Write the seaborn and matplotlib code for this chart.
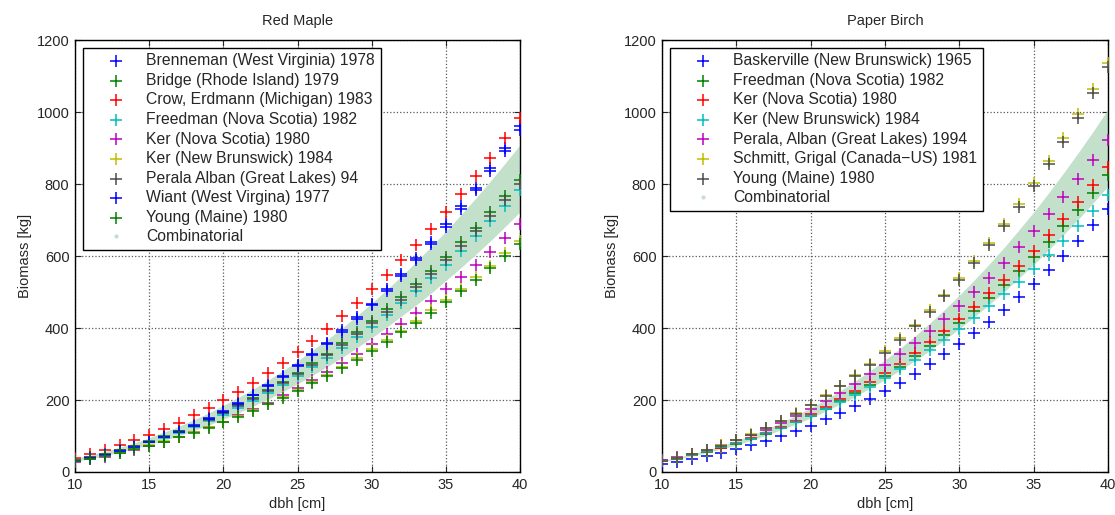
import matplotlib.pyplot as plt
from matplotlib.lines import Line2D
import seaborn as sns

dbh = list(range(10, 41))

# Red Maple
maple_labels = ['Brenneman (West Virginia) 1978', 'Bridge (Rhode Island) 1979',
                'Crow, Erdmann (Michigan) 1983', 'Freedman (Nova Scotia) 1982',
                'Ker (Nova Scotia) 1980', 'Ker (New Brunswick) 1984',
                'Perala Alban (Great Lakes) 94', 'Wiant (West Virgina) 1977',
                'Young (Maine) 1980']
brenneman = [30, 38, 47, 58, 70, 83, 97, 113, 130, 149, 170, 192, 215, 241, 268, 297,
             327, 359, 394, 430, 468, 508, 550, 594, 640, 688, 738, 790, 845, 901, 960]
bridge = [34, 42, 51, 61, 73, 85, 99, 114, 129, 147, 165, 185, 205, 228, 251, 276,
          302, 329, 358, 388, 419, 452, 486, 522, 559, 598, 638, 679, 722, 766, 812]
crow = [40, 50, 62, 74, 88, 103, 119, 137, 157, 177, 199, 223, 248, 275, 303, 333,
        365, 398, 432, 469, 507, 547, 588, 631, 676, 722, 771, 821, 873, 927, 982]
freedman_m = [32, 40, 49, 59, 70, 82, 95, 109, 125, 141, 159, 178, 198, 219, 242, 266,
              291, 317, 345, 374, 404, 436, 469, 503, 539, 576, 615, 655, 696, 739, 783]
ker_ns_m = [28, 35, 43, 52, 62, 72, 84, 96, 110, 124, 140, 157, 174, 193, 213, 234,
            256, 279, 303, 329, 355, 383, 412, 443, 474, 507, 541, 576, 612, 650, 689]
ker_nb_m = [30, 38, 45, 54, 64, 74, 86, 98, 111, 125, 140, 156, 172, 190, 209, 228,
            249, 270, 293, 316, 341, 366, 393, 420, 449, 478, 509, 541, 573, 607, 642]
perala_m = [33, 41, 50, 60, 72, 84, 97, 112, 128, 144, 163, 182, 202, 224, 247, 272,
            297, 324, 352, 382, 413, 445, 479, 514, 551, 589, 628, 669, 711, 755, 800]
wiant = [30, 38, 47, 57, 69, 82, 96, 112, 129, 148, 168, 190, 213, 238, 265, 294,
         324, 356, 390, 425, 463, 503, 544, 588, 633, 681, 730, 782, 836, 892, 950]
young_m = [30, 37, 45, 53, 63, 73, 84, 96, 109, 123, 138, 154, 170, 188, 206, 225,
           246, 267, 289, 312, 336, 362, 388, 415, 443, 472, 502, 534, 566, 599, 633]
comb_m_hi = [38, 47, 57, 69, 81, 95, 111, 127, 145, 164, 185, 207, 230, 255, 281, 309,
             338, 368, 400, 434, 469, 506, 544, 584, 626, 669, 714, 760, 808, 858, 909]
comb_m_lo = [30, 37, 45, 55, 65, 76, 88, 101, 115, 130, 147, 164, 183, 202, 223, 245,
             268, 293, 318, 345, 373, 402, 433, 464, 497, 532, 567, 604, 642, 682, 723]

# Paper Birch
birch_labels = ['Baskerville (New Brunswick) 1965', 'Freedman (Nova Scotia) 1982',
                'Ker (Nova Scotia) 1980', 'Ker (New Brunswick) 1984',
                'Perala, Alban (Great Lakes) 1994', 'Schmitt, Grigal (Canada\u2212US) 1981',
                'Young (Maine) 1980']
baskerville = [23, 29, 36, 44, 53, 63, 74, 86, 99, 113, 129, 146, 164, 183, 203, 225,
               248, 273, 299, 327, 355, 386, 418, 451, 486, 523, 561, 600, 642, 685, 730]
freedman_b = [30, 37, 46, 56, 66, 78, 91, 106, 121, 138, 156, 176, 196, 219, 242, 267,
              293, 321, 350, 381, 413, 447, 483, 520, 558, 598, 640, 684, 729, 776, 825]
ker_ns_b = [30, 38, 47, 57, 68, 80, 94, 109, 125, 142, 160, 180, 202, 224, 249, 274,
            301, 330, 360, 391, 425, 459, 496, 534, 573, 615, 658, 702, 749, 797, 847]
ker_nb_b = [32, 39, 48, 58, 69, 81, 93, 107, 122, 139, 156, 175, 194, 215, 237, 261,
            285, 311, 338, 367, 397, 428, 460, 494, 529, 565, 603, 643, 683, 725, 769]
perala_b = [33, 42, 51, 62, 74, 88, 102, 118, 136, 155, 175, 196, 220, 244, 271, 298,
            328, 359, 392, 426, 462, 500, 540, 581, 624, 669, 716, 765, 815, 868, 922]
schmitt = [31, 40, 50, 61, 74, 89, 105, 123, 142, 164, 187, 213, 240, 269, 301, 335,
           371, 409, 449, 492, 538, 585, 636, 689, 744, 803, 864, 927, 994, 1063, 1136]
young_b = [31, 39, 49, 61, 73, 88, 104, 122, 141, 162, 186, 211, 238, 267, 298, 331,
           367, 405, 445, 488, 532, 580, 630, 682, 737, 795, 855, 918, 984, 1053, 1125]
comb_b_hi = [32, 40, 50, 61, 73, 87, 102, 119, 137, 157, 178, 201, 226, 253, 281, 311,
             343, 377, 413, 451, 491, 533, 577, 623, 672, 722, 775, 830, 887, 946, 1008]
comb_b_lo = [29, 36, 44, 54, 64, 75, 88, 102, 117, 133, 150, 169, 189, 210, 233, 257,
             282, 309, 337, 367, 398, 431, 465, 500, 538, 576, 617, 659, 702, 747, 794]

maple_series = [brenneman, bridge, crow, freedman_m, ker_ns_m, ker_nb_m, perala_m, wiant, young_m]
maple_colors = ['b', 'g', 'r', 'c', 'm', 'y', '0.3', 'b', 'g']
birch_series = [baskerville, freedman_b, ker_ns_b, ker_nb_b, perala_b, schmitt, young_b]
birch_colors = ['b', 'g', 'r', 'c', 'm', 'y', '0.3']
band_color = '#c3e0cb'

sns.set_style('ticks', {'xtick.direction': 'in', 'ytick.direction': 'in'})
plt.rcParams['font.family'] = ['Liberation Sans', 'DejaVu Sans']
plt.rcParams['font.size'] = 10.5

fig = plt.figure(figsize=(11.15, 5.15), dpi=100)
ax1 = fig.add_axes([0.0673, 0.0835, 0.3991, 0.8388])
ax2 = fig.add_axes([0.5937, 0.0835, 0.4000, 0.8388])

panels = [(ax1, 'Red Maple', maple_series, maple_colors, maple_labels, comb_m_lo, comb_m_hi),
          (ax2, 'Paper Birch', birch_series, birch_colors, birch_labels, comb_b_lo, comb_b_hi)]

for ax, title, series, colors, labels, lo, hi in panels:
    ax.fill_between(dbh, lo, hi, color=band_color, lw=0, zorder=1)
    for vals, c, lbl in zip(series, colors, labels):
        sns.scatterplot(x=dbh, y=vals, marker='+', s=70, color=c, linewidth=1.1,
                        ax=ax, label=lbl, zorder=3)
    ax.set_xlim(10, 40)
    ax.set_ylim(0, 1200)
    ax.set_xticks(range(10, 41, 5))
    ax.set_yticks(range(0, 1201, 200))
    ax.grid(True, ls=':', color='0.35', lw=0.9)
    ax.tick_params(top=True, right=True, length=4, width=0.8, labelsize=10.5, pad=4)
    for sp in ax.spines.values():
        sp.set_color('black')
        sp.set_linewidth(1.0)
    ax.set_title(title, fontsize=10.5, pad=11)
    ax.set_xlabel('dbh [cm]', fontsize=10.5, labelpad=4)
    ax.set_ylabel('Biomass [kg]', fontsize=10.5, labelpad=3)
    handles, lbls = ax.get_legend_handles_labels()
    handles.append(Line2D([], [], ls='', marker='.', ms=4, color=band_color))
    lbls.append('Combinatorial')
    leg = ax.legend(handles, lbls, loc='upper left', fontsize=11.3, frameon=True,
                    fancybox=False, edgecolor='black', framealpha=1,
                    borderaxespad=0.5, borderpad=0.35, labelspacing=0.29,
                    handlelength=3.5, handletextpad=0.2)
    leg.get_frame().set_linewidth(1.0)

fig.savefig('out.png', dpi=100)
